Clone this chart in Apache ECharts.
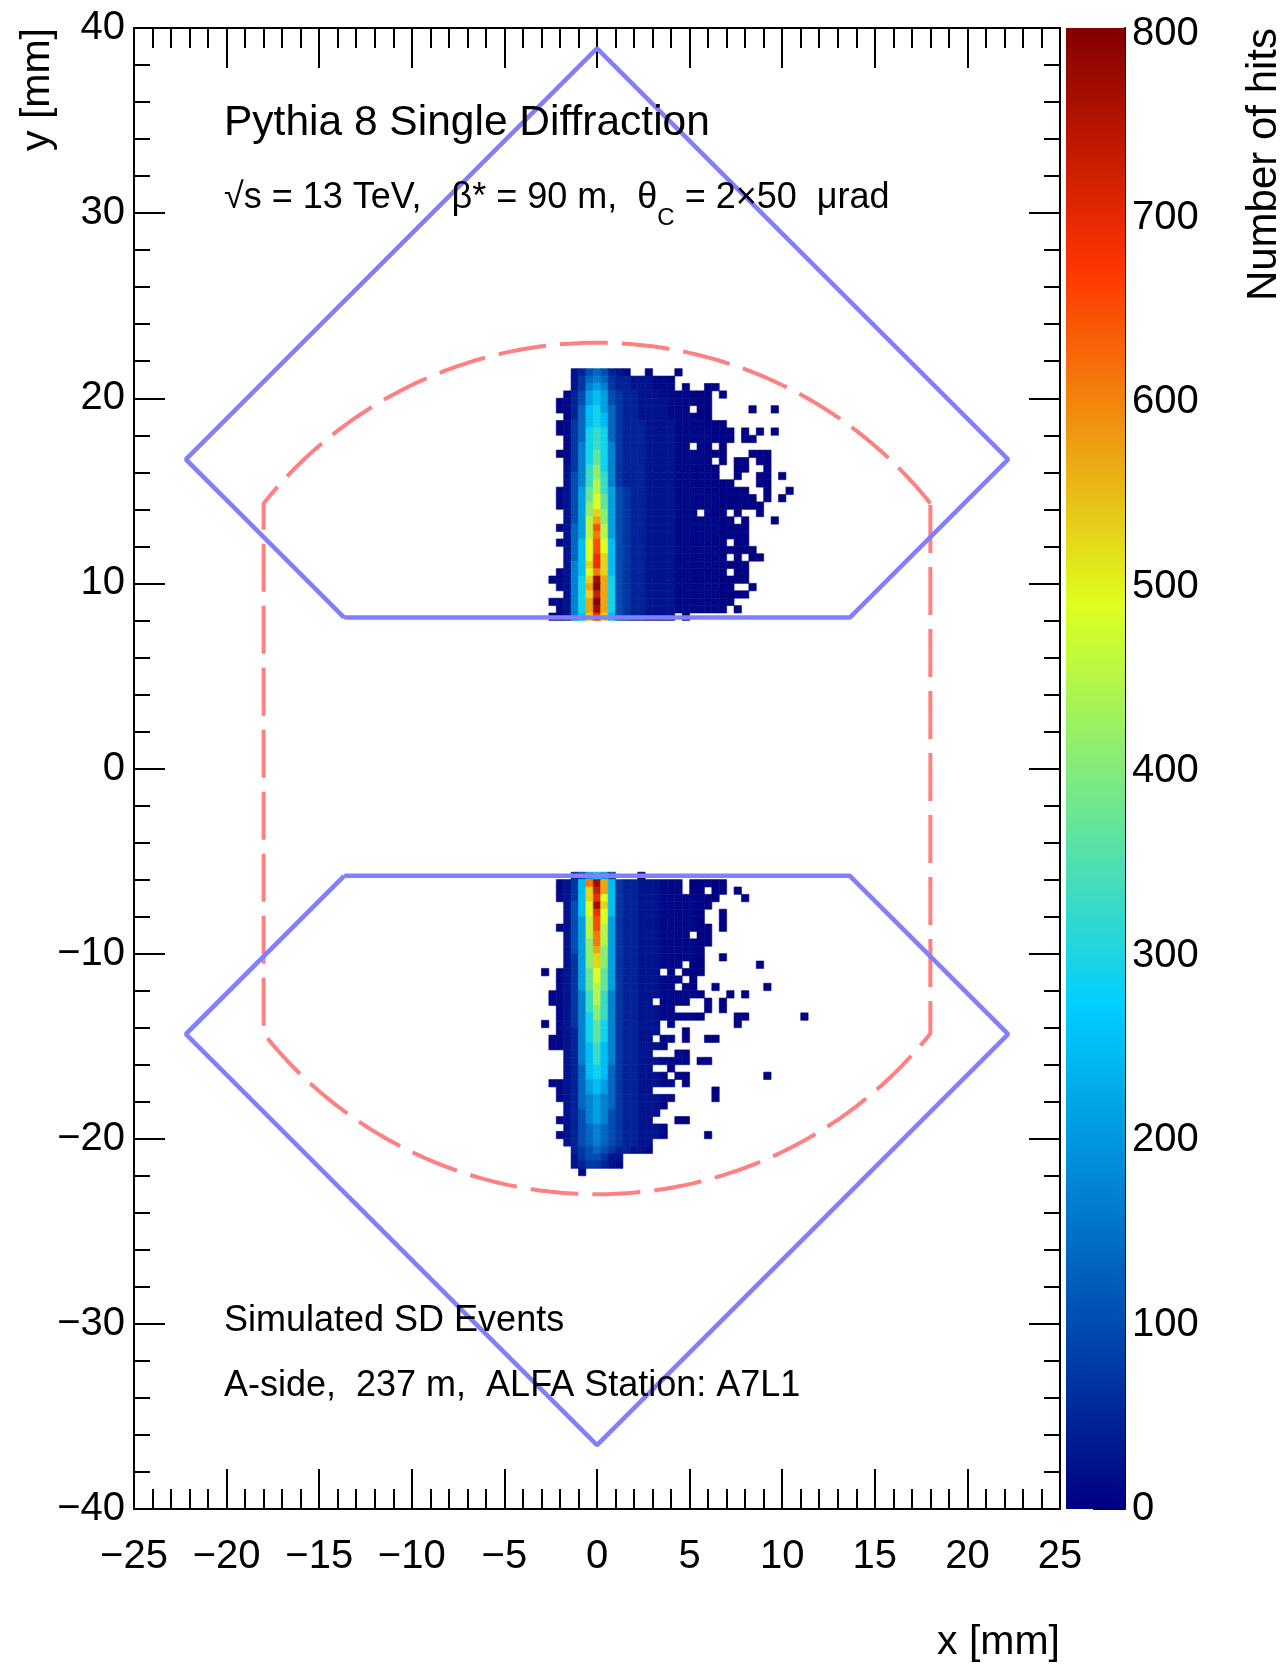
<!DOCTYPE html>
<html>
<head>
<meta charset="utf-8">
<script src="https://cdn.jsdelivr.net/npm/echarts@6/dist/echarts.min.js"></script>
<style>
html,body{margin:0;padding:0;background:#fff;}
#chart{width:1288px;height:1666px;}
</style>
</head>
<body>
<div id="chart"></div>
<script>
// ---------------- data ----------------
const FONT = '"Liberation Sans", Arial, Helvetica, sans-serif';
const BIN = 0.4;            // histogram bin width (mm), both axes
const X_START = -3.0;       // left edge of column 0
const UPPER_TOP = 21.6;     // top edge of first row of the upper detector
const LOWER_TOP = -5.6;     // top edge of first row of the lower detector
const Z_MAX = 803;
const Z_TICKS = [0, 100, 200, 300, 400, 500, 600, 700, 800];

// level code -> number of hits
const levelValues = {'1':3,'2':10,'3':25,'4':45,'5':70,'6':100,'7':135,'8':170,'9':210,
  'A':250,'B':290,'C':330,'D':370,'E':410,'F':450,'G':490,'H':530,'I':570,'J':610,
  'K':650,'L':690,'M':730,'N':770,'O':800};

// upper detector, rows from y=21.6 downwards, columns from x=-3.0 (0.4 mm bins)
const upperRows = [
  "....34676432..1...1",
  "....35787544333221",
  "....35898544333222.1..11",
  "...2469A965443332222111.1",
  "..12469A965443333222211",
  "..1247AB975443333222.11.....1..1",
  "...247ABA75443333222211",
  "..1257ABA7544433332222111",
  "..1257BCB75444333322222111.1.1.1",
  "...257BCB75444333322222111.11",
  "...258BCB85444333322.21.1",
  "..1258BDB8544433332222211...111",
  "...258BDB85444333322221.1.11.11",
  "...358CEB854443333222221..11..1",
  "...368CEC854443333222221..1..11.1",
  "...368CFC85444333322222211...11",
  "..2369DFC9654433332222221111..1..1",
  "..2369DGD96544333322222211111.1.1",
  "..2369EGD965443333222222111111",
  "...369EHE965443333222.211.1..1",
  "...369FIE96544333322222211.1...1",
  "..2379FKF9654433332222221111",
  "...379FJF9654433332222221111",
  "..237AGKGA654433332222221.11",
  "...37AGKGA6544333322222211111",
  "...37AGLHA654433332222221.1.11",
  "...38AHLHA654433332222221111",
  "..238AGJHA654433332222222.11",
  ".2238BHNIB654433332222221111",
  "..238BIOIB6544333322222211..1",
  "...38BHMIB654433332222221111",
  ".2238BIOIB6544333322222211",
  "..238BINIB654433332222221.1",
  ".2238AHLHA65443333.1"
];

// lower detector, rows from y=-5.6 downwards
const lowerRows = [
  "....469A96...1",
  "..235AJNIA544333222.11111",
  "..235AHMIA544333222.11.11.1",
  "..235AHLGA54433322222111...1",
  "...36AGNHA5443332222211",
  "...36AGLGA544333222221..1",
  "...369FKG9544333222221..1",
  "..2369FKF95443332222211.1",
  "...369FJF95443332222.11",
  "...369EJF95443332222211",
  "...369EIE9544333222221",
  "...359EHE9544333222221..1",
  "...359EHE9544333222.11.......1",
  "1.2359DGD9544333.2.111",
  "..2359DGD9544333222.1",
  "..2359DFD954433322.11..1......1",
  ".22358CFC8544333222221...1.1",
  ".22358CFC854433.2222..1.1",
  "..2358CEC854433322....1.1",
  "..2358BEC8544333222221....11.......1",
  "1.2358BDB8544333.2........1",
  "..2348BDB8544333...1",
  ".22348BDB854433.22.1..11",
  ".22348ACA85443332",
  "...348ACA854433...22",
  "...348ACA85443332222.11",
  "...347ABA754433..1",
  "...347ABA75443332.11..........1",
  ".223479A9754433322.1",
  "..23479A9754433........1",
  "..2347898754433322.....1",
  "...34789875443332",
  "...3468986544333",
  "..2346898654433...11",
  "...34678765443332",
  "..234678765443332.....1",
  "...346787654433",
  "....45676544332",
  "....3566533",
  "....3455432",
  ".....2"
];

// detector outlines (mm)
const upperFrame = [[-13.65, 8.15], [-22.2, 16.7], [0, 38.9], [22.2, 16.7], [13.65, 8.15], [-13.65, 8.15]];
const lowerFrame = [[-13.65, -5.8], [-22.2, -14.35], [0, -36.55], [22.2, -14.35], [13.65, -5.8], [-13.65, -5.8]];
// beam screen: circle radius, half-width of the vertical cut
const beamScreen = [[23, 18]];

// ---------------- palette (ROOT kRainBow) ----------------
const PAL_STOPS = [0, 0.34, 0.61, 0.84, 1.0];
const PAL_R = [0, 0, 0.87, 1, 0.51];
const PAL_G = [0, 0.81, 1, 0.2, 0];
const PAL_B = [0.51, 1, 0.12, 0, 0];
function paletteColor(v) {
  let t = Math.max(0, Math.min(1, v / Z_MAX));
  let i = 0;
  while (i < PAL_STOPS.length - 2 && t > PAL_STOPS[i + 1]) i++;
  const f = (t - PAL_STOPS[i]) / (PAL_STOPS[i + 1] - PAL_STOPS[i]);
  const c = a => Math.round(255 * (a[i] + f * (a[i + 1] - a[i])));
  return 'rgb(' + c(PAL_R) + ',' + c(PAL_G) + ',' + c(PAL_B) + ')';
}

function buildCells(rows, yTop) {
  const out = [];
  rows.forEach((row, j) => {
    for (let k = 0; k < row.length; k++) {
      const v = levelValues[row[k]];
      if (!v) continue;
      out.push([X_START + (k + 0.5) * BIN, yTop - (j + 0.5) * BIN, v]);
    }
  });
  return out;
}
const cells = buildCells(upperRows, UPPER_TOP).concat(buildCells(lowerRows, LOWER_TOP));

const gradStops = [];
for (let i = 0; i <= 100; i++) gradStops.push({offset: i / 100, color: paletteColor(Z_MAX * (1 - i / 100))});

const fmt = v => (v < 0 ? '\u2212' + Math.abs(v) : String(v));
const black = {color: '#000', width: 2};

function mainAxis(extra) {
  return Object.assign({
    type: 'value', gridIndex: 0,
    axisLine: {show: true, onZero: false, lineStyle: black},
    splitLine: {show: false}, minorSplitLine: {show: false},
  }, extra);
}

const chart = echarts.init(document.getElementById('chart'), null, {renderer: 'canvas'});
chart.setOption({
  animation: false,
  backgroundColor: '#fff',
  grid: [
    {left: 134, top: 28, width: 926, height: 1481, outerBoundsMode: 'none', containLabel: false},
    {left: 1066, top: 28, width: 59, height: 1481, outerBoundsMode: 'none', containLabel: false}
  ],
  xAxis: [
    mainAxis({min: -25, max: 25, interval: 5, position: 'bottom',
      axisTick: {show: true, inside: true, length: 40, lineStyle: black},
      minorTick: {show: true, splitNumber: 5, length: 20, lineStyle: black},
      axisLabel: {show: true, fontSize: 40, fontFamily: FONT, color: '#000', margin: 28,
        showMinLabel: true, showMaxLabel: true, hideOverlap: false, formatter: fmt}}),
    mainAxis({min: -25, max: 25, interval: 5, position: 'top',
      axisTick: {show: true, inside: true, length: 40, lineStyle: black},
      minorTick: {show: true, splitNumber: 5, length: 20, lineStyle: black},
      axisLabel: {show: false}}),
    {type: 'value', gridIndex: 1, min: 0, max: 1, show: false}
  ],
  yAxis: [
    mainAxis({min: -40, max: 40, interval: 10, position: 'left',
      axisTick: {show: true, inside: true, length: 31, lineStyle: black},
      minorTick: {show: true, splitNumber: 5, length: 16, lineStyle: black},
      axisLabel: {show: true, fontSize: 40, fontFamily: FONT, color: '#000', margin: 9,
        showMinLabel: true, showMaxLabel: true, hideOverlap: false, formatter: fmt}}),
    mainAxis({min: -40, max: 40, interval: 10, position: 'right',
      axisTick: {show: true, inside: true, length: 31, lineStyle: black},
      minorTick: {show: true, splitNumber: 5, length: 16, lineStyle: black},
      axisLabel: {show: false}}),
    {type: 'value', gridIndex: 1, min: 0, max: Z_MAX, interval: 100, position: 'right',
      axisLine: {show: true, onZero: false, lineStyle: black},
      axisTick: {show: true, inside: true, length: 32, lineStyle: black, customValues: Z_TICKS},
      splitLine: {show: false},
      axisLabel: {show: true, fontSize: 40, fontFamily: FONT, color: '#000', margin: 7,
        customValues: Z_TICKS, showMinLabel: true, showMaxLabel: true, hideOverlap: false}}
  ],
  series: [
    {
      type: 'custom', xAxisIndex: 0, yAxisIndex: 0, data: cells, z: 2,
      encode: {x: 0, y: 1}, progressive: 0, silent: true,
      renderItem: function (params, api) {
        const x = api.value(0), y = api.value(1), v = api.value(2);
        const p1 = api.coord([x - BIN / 2, y + BIN / 2]);
        const p2 = api.coord([x + BIN / 2, y - BIN / 2]);
        const c = paletteColor(v);
        return {type: 'rect', shape: {x: p1[0], y: p1[1], width: p2[0] - p1[0], height: p2[1] - p1[1]},
          style: {fill: c, stroke: c, lineWidth: 0.6}};
      }
    },
    {
      type: 'custom', xAxisIndex: 0, yAxisIndex: 0, data: beamScreen, z: 4, silent: true, clip: false,
      renderItem: function (params, api) {
        const R = api.value(0), H = api.value(1);
        const yc = Math.sqrt(R * R - H * H);
        const a0 = Math.atan2(yc, H);
        const N = 160, pts = [];
        for (let i = 0; i <= N; i++) {
          const a = a0 + (Math.PI - 2 * a0) * i / N;
          pts.push(api.coord([R * Math.cos(a), R * Math.sin(a)]));
        }
        for (let i = 0; i <= N; i++) {
          const a = Math.PI + a0 + (Math.PI - 2 * a0) * i / N;
          pts.push(api.coord([R * Math.cos(a), R * Math.sin(a)]));
        }
        pts.push(pts[0]);
        return {type: 'polyline', shape: {points: pts},
          style: {stroke: '#ff8080', lineWidth: 4, lineDash: [48, 14], fill: null}};
      }
    },
    {type: 'line', xAxisIndex: 0, yAxisIndex: 0, data: upperFrame, symbol: 'none', z: 5, silent: true,
      lineStyle: {color: '#8080ff', width: 4.5}},
    {type: 'line', xAxisIndex: 0, yAxisIndex: 0, data: lowerFrame, symbol: 'none', z: 5, silent: true,
      lineStyle: {color: '#8080ff', width: 4.5}},
    {
      type: 'custom', xAxisIndex: 2, yAxisIndex: 2, data: [[0, Z_MAX]], silent: true, z: 1,
      renderItem: function (params, api) {
        const p1 = api.coord([0, api.value(1)]);
        const p2 = api.coord([1, 0]);
        return {type: 'rect', shape: {x: p1[0], y: p1[1], width: p2[0] - p1[0], height: p2[1] - p1[1]},
          style: {fill: new echarts.graphic.LinearGradient(0, 0, 0, 1, gradStops)}};
      }
    }
  ],
  graphic: [
    {type: 'text', x: 224, y: 123, z: 100, silent: true,
      style: {text: 'Pythia 8 Single Diffraction', fontSize: 42.5, fontFamily: FONT, fill: '#000',
        textAlign: 'left', align: 'left', textVerticalAlign: 'middle', verticalAlign: 'middle'}},
    {type: 'text', x: 224, y: 198, z: 100, silent: true,
      style: {text: '\u221As = 13 TeV,   \u03B2* = 90 m,  \u03B8{sub|C} = 2\u00D750  \u03BCrad',
        fontSize: 36, fontFamily: FONT, fill: '#000',
        textAlign: 'left', align: 'left', textVerticalAlign: 'middle', verticalAlign: 'middle',
        rich: {sub: {fontSize: 24, fontFamily: FONT, fill: '#000', padding: [40, 0, 0, 0]}}}},
    {type: 'text', x: 224, y: 1321, z: 100, silent: true,
      style: {text: 'Simulated SD Events', fontSize: 36, fontFamily: FONT, fill: '#000',
        textAlign: 'left', align: 'left', textVerticalAlign: 'middle', verticalAlign: 'middle'}},
    {type: 'text', x: 224, y: 1386, z: 100, silent: true,
      style: {text: 'A-side,  237 m,  ALFA Station: A7L1', fontSize: 36, fontFamily: FONT, fill: '#000',
        textAlign: 'left', align: 'left', textVerticalAlign: 'middle', verticalAlign: 'middle'}},
    {type: 'text', x: 1060, y: 1643, z: 100, silent: true,
      style: {text: 'x [mm]', fontSize: 41, fontFamily: FONT, fill: '#000',
        textAlign: 'right', align: 'right', textVerticalAlign: 'middle', verticalAlign: 'middle'}},
    {type: 'text', x: 38, y: 28, rotation: Math.PI / 2, z: 100, silent: true,
      style: {text: 'y [mm]', fontSize: 41, fontFamily: FONT, fill: '#000',
        textAlign: 'right', align: 'right', textVerticalAlign: 'middle', verticalAlign: 'middle'}},
    {type: 'text', x: 1264, y: 28, rotation: Math.PI / 2, z: 100, silent: true,
      style: {text: 'Number of hits', fontSize: 42, fontFamily: FONT, fill: '#000',
        textAlign: 'right', align: 'right', textVerticalAlign: 'middle', verticalAlign: 'middle'}}
  ]
});
</script>
</body>
</html>
